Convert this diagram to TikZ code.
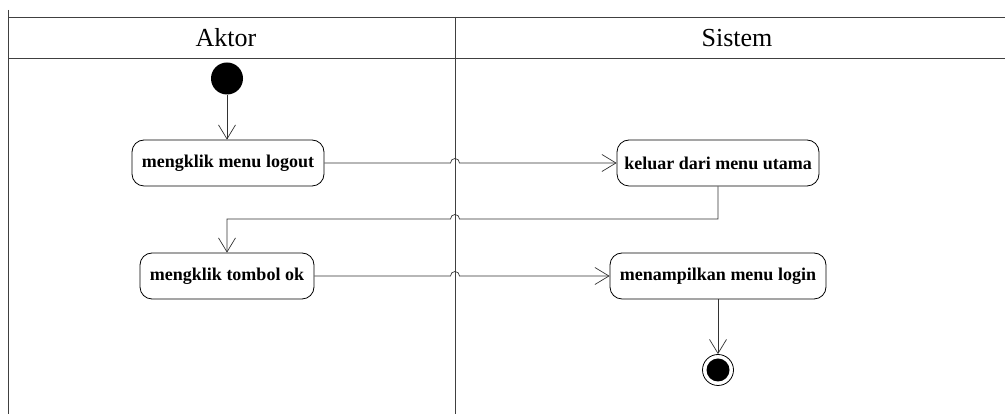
\documentclass[tikz,border=0pt]{standalone}
\usepackage{fontspec}
\setmainfont{Liberation Serif}
\usetikzlibrary{arrows.meta}
\begin{document}
\begin{tikzpicture}[x=1pt,y=1pt,
  lane/.style={draw=black!75, line width=0.8pt},
  act/.style={draw=black, line width=0.8pt, rounded corners=12pt, minimum height=46pt, inner sep=0pt, font=\fontsize{18}{20}\selectfont\bfseries},
  flow/.style={draw=black!80, line width=0.7pt, -{Straight Barb[length=14pt,width=17pt,line width=0.7pt]}},
  hdr/.style={font=\fontsize{26}{30}\selectfont, inner sep=0pt}]
\useasboundingbox (0,0) rectangle (1005,414);
\fill[white] (0,0) rectangle (1005,414);
% swimlanes
\draw[lane] (8,404) -- (8,0);
\draw[lane] (8,397) -- (1005,397);
\draw[lane] (8,356) -- (1005,356);
\draw[lane] (455,397) -- (455,0);
\node[hdr] (hA) at (226,376) {Aktor};
\node[hdr] (hS) at (737,376) {Sistem};
% nodes
\node[circle, fill=black, minimum size=32pt, inner sep=0pt] (init) at (227,335.5) {};
\node[act, minimum width=192pt] (b1) at (228,251) {mengklik menu logout};
\node[act, minimum width=202pt] (b2) at (718,251) {keluar dari menu utama};
\node[act, minimum width=174pt] (b3) at (227,138) {mengklik tombol ok};
\node[act, minimum width=216pt] (b4) at (718,138) {menampilkan menu login};
\node[circle, draw=black, line width=0.8pt, minimum size=31pt, inner sep=0pt,
  path picture={\fill[black] (path picture bounding box.center) circle (11.5pt);}] (fin) at (718,44) {};
% flows
\draw[flow] (init.south) -- (init.south |- b1.north);
\draw[flow] (b1.east) -- (450.5,251) arc[start angle=180,end angle=0,radius=4.5] -- (b2.west);
\draw[flow] (b2.south) -- (718,195) -- (459.5,195) arc[start angle=0,end angle=180,radius=4.5] -- (227,195) -- (227,195 |- b3.north);
\draw[flow] (b3.east) -- (450.5,138) arc[start angle=180,end angle=0,radius=4.5] -- (b4.west);
\draw[flow] (b4.south) -- (fin.north);
\end{tikzpicture}
\end{document}
